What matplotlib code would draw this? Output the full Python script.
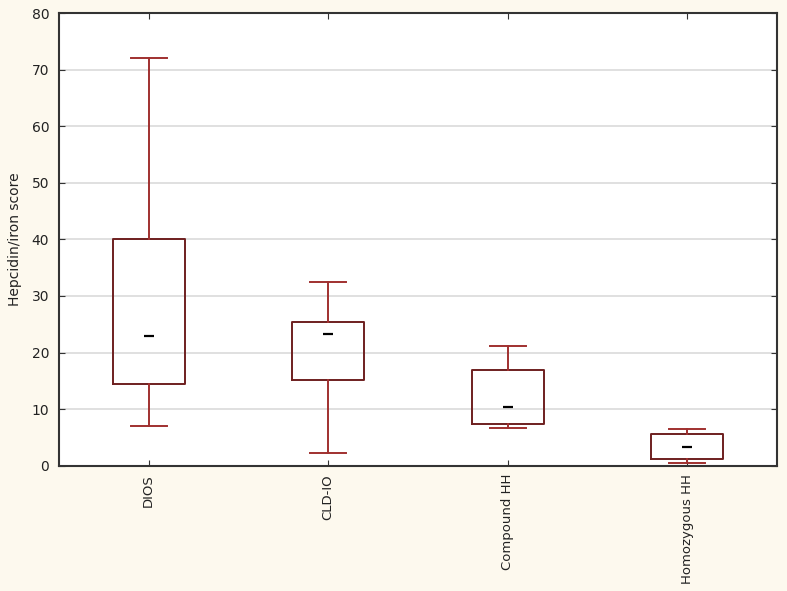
import matplotlib
matplotlib.use("Agg")
import matplotlib.pyplot as plt

categories = ["DIOS", "CLD-IO", "Compound HH", "Homozygous HH"]
whisker_low = [7.0, 2.3, 6.6, 0.45]
box_low = [14.4, 15.2, 7.3, 1.1]
median = [22.9, 23.35, 10.4, 3.35]
box_high = [40.0, 25.4, 17.0, 5.65]
whisker_high = [72.0, 32.4, 21.2, 6.5]
yticks = [0, 10, 20, 30, 40, 50, 60, 70, 80]

bg = "#FDF9EE"
box_col = "#6E1F1F"
wh_col = "#A0302F"

fig = plt.figure(figsize=(7.87, 5.91), dpi=100, facecolor=bg)
ax = fig.add_axes([0.075, 0.212, 0.912, 0.766])
ax.set_facecolor("white")

stats = []
for i, c in enumerate(categories):
    stats.append(dict(label=c, whislo=whisker_low[i], q1=box_low[i], med=median[i],
                      q3=box_high[i], whishi=whisker_high[i], fliers=[]))

pos = list(range(len(categories)))
ax.bxp(stats, positions=pos, widths=0.4, showfliers=False,
       boxprops=dict(color=box_col, linewidth=1.4),
       whiskerprops=dict(color=wh_col, linewidth=1.4),
       capprops=dict(color=wh_col, linewidth=1.4),
       medianprops=dict(linewidth=0), capwidths=0.2, zorder=3)
ax.plot(pos, median, linestyle="none", marker="_", markersize=7,
        markeredgewidth=1.6, color="black", zorder=4)

ax.set_xlim(-0.5, 3.5)
ax.set_ylim(0, 80)
ax.set_yticks(yticks)
ax.set_yticklabels([str(v) for v in yticks], fontsize=10, color="#222222")
ax.set_xticks(pos)
ax.set_xticklabels(categories, rotation=90, fontsize=9.5, color="#222222")
ax.yaxis.grid(True, color="#DADADA", linewidth=1.2, zorder=0)
ax.set_axisbelow(True)
ax.tick_params(direction="in", top=True, right=True, length=4, color="#333333")
ax.tick_params(axis="y", pad=7)
ax.tick_params(axis="x", pad=6)
for s in ax.spines.values():
    s.set_color("#333333")
    s.set_linewidth(1.5)
ax.set_ylabel("Hepcidin/iron score", fontsize=10, color="#222222", labelpad=7)

fig.savefig("out.png", dpi=100, facecolor=bg)
